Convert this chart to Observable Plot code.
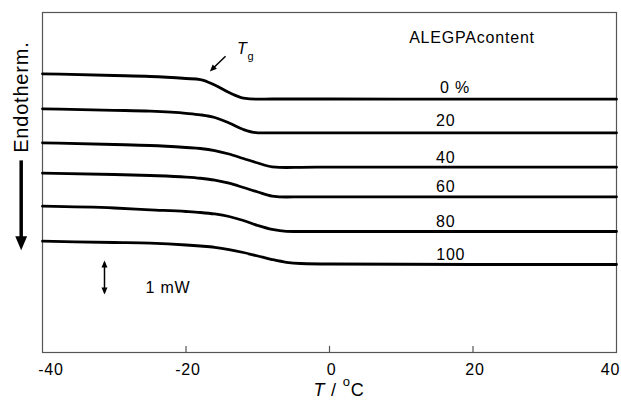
<!DOCTYPE html>
<html><head><meta charset="utf-8">
<script src="https://cdn.jsdelivr.net/npm/d3@7"></script>
<script src="https://cdn.jsdelivr.net/npm/@observablehq/plot@0.6"></script>
<style>
html,body{margin:0;padding:0;background:#fff;}
#chart svg text{letter-spacing:0.8px;}
</style></head><body><div id="chart"></div>
<script>
// Temperature (°C)
const temperature = [-40,-30,-25,-20,-18,-16,-14,-12,-10,-8,-6,-4,0,20,40];
// ALEGPA content labels
const contents = ["0 %","20","40","60","80","100"];
// Heat flow (mW, arbitrary offset), one array per content
const flow0   = [8.197,8.147,8.118,8.059,8.029,7.868,7.647,7.485,7.450,7.456,7.456,7.456,7.456,7.450,7.450];
const flow20  = [7.168,7.124,7.097,7.035,6.991,6.912,6.750,6.559,6.462,6.462,6.462,6.462,6.462,6.462,6.462];
const flow40  = [6.168,6.118,6.088,6.029,6.000,5.941,5.838,5.706,5.574,5.462,5.441,5.447,5.450,5.450,5.450];
const flow60  = [5.274,5.235,5.206,5.160,5.125,5.070,4.980,4.853,4.721,4.600,4.574,4.579,4.579,4.579,4.579];
const flow80  = [4.303,4.250,4.197,4.147,4.118,4.074,4.000,3.882,3.735,3.618,3.565,3.559,3.559,3.559,3.559];
const flow100 = [3.274,3.235,3.215,3.162,3.132,3.094,3.029,2.941,2.838,2.735,2.653,2.618,2.603,2.588,2.588];
const series = [flow0, flow20, flow40, flow60, flow80, flow100];
// Axis ticks
const innerTicks = [-20,0,20];
const firstTick = [-40], middleTicks = [-20,0,20], lastTick = [40];
// Series label placement (data units)
const labelX = [17.5,16.2,16.2,16.2,16.2,16.9];
const labelY = [7.62,6.65,5.57,4.71,3.69,2.73];
// Annotations (data units)
const headerText = ["ALEGPAcontent"]; const headerX = [19.86]; const headerY = [9.10];
const scaleText = ["1 mW"]; const scaleTextX = [-22.51]; const scaleTextY = [1.74];
const scaleBarX = [-31.36]; const scaleBarY = [2.65, 1.76]; const scaleHeadY = [2.603, 1.809];
const tgText = ["Tg"]; const tgX = [-12.9]; const tgY = [8.785];
const tgArrowFrom = [-14.49, 8.715]; const tgArrowTo = [-16.33, 8.337];
const endoText = ["Endotherm."]; const endoX = [-42.97]; const endoY = [7.51];
const endoArrowY = [5.65, 3.35]; const endoHeadY = [3.21];
const axisTitle = ["T / oC"]; const axisTitleX = [-2.23]; const axisTitleY = [-1.265];

const rows = contents.flatMap((c,i)=>temperature.map((t,j)=>({content:c, T:t, q:series[i][j]})));
const labelRows = contents.map((c,i)=>({text:c, x:labelX[i], y:labelY[i]}));

const tri = {draw(ctx, size){ const r = Math.sqrt(size/Math.PI); ctx.moveTo(0, r); ctx.lineTo(-0.85*r, -r); ctx.lineTo(0.85*r, -r); ctx.closePath(); }};
const tickText = (ticks, dx) => Plot.text(ticks, {x: d=>d, text: d=>String(d), frameAnchor: "bottom", dy: 11, dx, fontSize: 16, textAnchor: "middle", lineAnchor: "top", fill: "#000"});

const svg = Plot.plot({
  width: 621, height: 405,
  marginLeft: 42, marginRight: 5, marginTop: 12, marginBottom: 53,
  style: {fontFamily: "Arial, 'Liberation Sans', sans-serif", fontSize: "16px", color: "#000", background: "#fff"},
  x: {domain: [-40, 40], axis: null},
  y: {domain: [0, 10], axis: null},
  marks: [
    Plot.frame({stroke: "#555", strokeWidth: 1.2}),
    Plot.ruleX(innerTicks, {y1: 0, y2: 0.18, stroke: "#555", strokeWidth: 1.2}),
    tickText(firstTick, 8.5),
    tickText(middleTicks, 2),
    tickText(lastTick, -6),
    Plot.line(rows, {x: "T", y: "q", z: "content", stroke: "#000", strokeWidth: 2.8, curve: "monotone-x"}),
    Plot.text(labelRows, {x: "x", y: "y", text: "text", fontSize: 16, textAnchor: "middle", lineAnchor: "bottom", fill: "#000"}),
    Plot.text(headerText, {x: (d,i)=>headerX[i], y: (d,i)=>headerY[i], text: d=>d, fontSize: 16, textAnchor: "middle", lineAnchor: "bottom", fill: "#000"}),
    Plot.text(scaleText, {x: (d,i)=>scaleTextX[i], y: (d,i)=>scaleTextY[i], text: d=>d, fontSize: 16, textAnchor: "middle", lineAnchor: "bottom", fill: "#000"}),
    Plot.link(scaleBarX, {x1: d=>d, x2: d=>d, y1: ()=>scaleBarY[0], y2: ()=>scaleBarY[1], stroke: "#000", strokeWidth: 1.5}),
    Plot.dot(scaleHeadY, {x: ()=>scaleBarX[0], y: d=>d, symbol: tri, r: 3.5, fill: "#000", stroke: null, rotate: (d,i)=> i===0 ? 180 : 0}),
    Plot.text(tgText, {x: (d,i)=>tgX[i], y: (d,i)=>tgY[i], text: d=>d, fontSize: 16, textAnchor: "start", lineAnchor: "bottom", fill: "#000"}),
    Plot.link([0], {x1: ()=>tgArrowFrom[0], y1: ()=>tgArrowFrom[1], x2: ()=>tgArrowTo[0], y2: ()=>tgArrowTo[1], stroke: "#000", strokeWidth: 1.5}),
    Plot.dot([0], {x: ()=>tgArrowTo[0], y: ()=>tgArrowTo[1], symbol: tri, r: 3.5, fill: "#000", stroke: null, rotate: 45}),
    Plot.text(endoText, {x: (d,i)=>endoX[i], y: (d,i)=>endoY[i], text: d=>d, fontSize: 20, rotate: -90, textAnchor: "middle", lineAnchor: "middle", fill: "#000"}),
    Plot.link(endoX, {x1: d=>d, x2: d=>d, y1: ()=>endoArrowY[0], y2: ()=>endoArrowY[1], stroke: "#000", strokeWidth: 3.5}),
    Plot.dot(endoHeadY, {x: ()=>endoX[0], y: d=>d, symbol: tri, r: 7, fill: "#000", stroke: null}),
    Plot.text(axisTitle, {x: (d,i)=>axisTitleX[i], y: (d,i)=>axisTitleY[i], text: d=>d, fontSize: 18, textAnchor: "start", lineAnchor: "bottom", fill: "#000"})
  ]
});

d3.select(svg).selectAll("text").each(function(){
  const t = this.textContent;
  const s = d3.select(this);
  if (t === "T / oC") {
    s.text(null);
    s.append("tspan").attr("font-style", "italic").text("T");
    s.append("tspan").text(" / ");
    s.append("tspan").attr("font-size", "13px").attr("dy", "-10px").text("o");
    s.append("tspan").attr("dy", "10px").text("C");
  } else if (t === "Tg") {
    s.text(null);
    s.append("tspan").attr("font-style", "italic").text("T");
    s.append("tspan").attr("font-size", "11px").attr("dy", "6px").text("g");
  }
});

document.getElementById("chart").appendChild(svg);
</script></body></html>
